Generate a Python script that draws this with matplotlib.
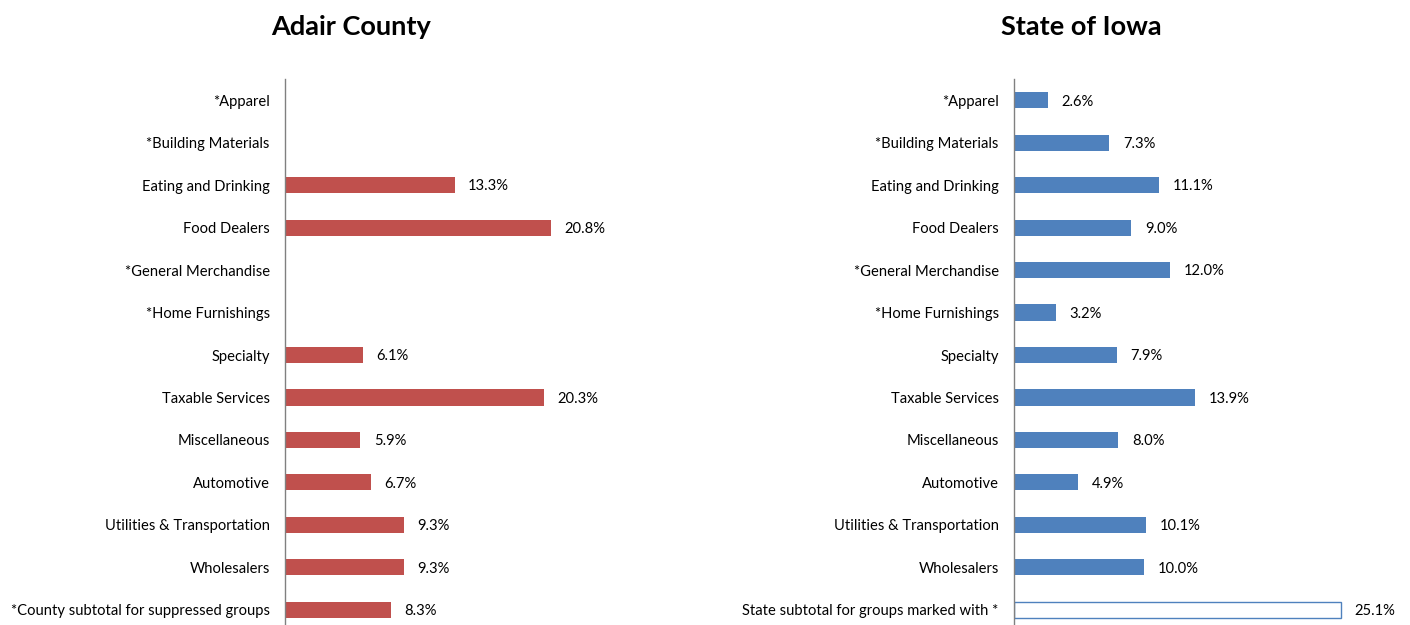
import matplotlib.pyplot as plt
import numpy as np

plt.rcParams['font.family'] = ['Lato', 'DejaVu Sans']

county_labels = ['*Apparel', '*Building Materials', 'Eating and Drinking', 'Food Dealers',
                 '*General Merchandise', '*Home Furnishings', 'Specialty', 'Taxable Services',
                 'Miscellaneous', 'Automotive', 'Utilities & Transportation', 'Wholesalers',
                 '*County subtotal for suppressed groups']
county_vals = [None, None, 13.3, 20.8, None, None, 6.1, 20.3, 5.9, 6.7, 9.3, 9.3, 8.3]

state_labels = ['*Apparel', '*Building Materials', 'Eating and Drinking', 'Food Dealers',
                '*General Merchandise', '*Home Furnishings', 'Specialty', 'Taxable Services',
                'Miscellaneous', 'Automotive', 'Utilities & Transportation', 'Wholesalers',
                'State subtotal for groups marked with *']
state_vals = [2.6, 7.3, 11.1, 9.0, 12.0, 3.2, 7.9, 13.9, 8.0, 4.9, 10.1, 10.0, 25.1]

W, H = 1410, 625
fig = plt.figure(figsize=(W / 100, H / 100), dpi=100)

red = '#C0504D'
blue = '#4F81BD'


def draw(ax, labels, vals, color, hollow_last=False):
    n = len(labels)
    y = np.arange(n)
    for i, v in enumerate(vals):
        if v is None:
            continue
        if hollow_last and i == n - 1:
            ax.barh(y[i], v, height=0.38, color='white', edgecolor=color, linewidth=1)
        else:
            ax.barh(y[i], v, height=0.38, color=color)
        ax.text(v + 1.05, y[i] + 0.03, f'{v:.1f}%', va='center', ha='left', fontsize=10.6)
    ax.set_yticks(y)
    ax.set_yticklabels(labels, fontsize=10.6)
    ax.set_ylim(n - 0.5, -0.5)
    ax.set_xlim(0, 30)
    ax.tick_params(axis='y', length=0, pad=11)
    ax.set_xticks([])
    for s in ['top', 'right', 'bottom']:
        ax.spines[s].set_visible(False)
    ax.spines['left'].set_color('#808080')
    ax.spines['left'].set_linewidth(1)


top_px, bot_px = 79, 631
h = (bot_px - top_px) / H
b = (H - bot_px) / H

ax1 = fig.add_axes([285 / W, b, 383 / W, h])
draw(ax1, county_labels, county_vals, red)

ax2 = fig.add_axes([1014 / W, b, 391 / W, h])
draw(ax2, state_labels, state_vals, blue, hollow_last=True)

fig.text(351 / W, 1 - 27 / H, 'Adair County', ha='center', va='center', fontsize=19.5, fontweight='bold')
fig.text(1081 / W, 1 - 27 / H, 'State of Iowa', ha='center', va='center', fontsize=19.5, fontweight='bold')

fig.savefig('out.png', dpi=100)
